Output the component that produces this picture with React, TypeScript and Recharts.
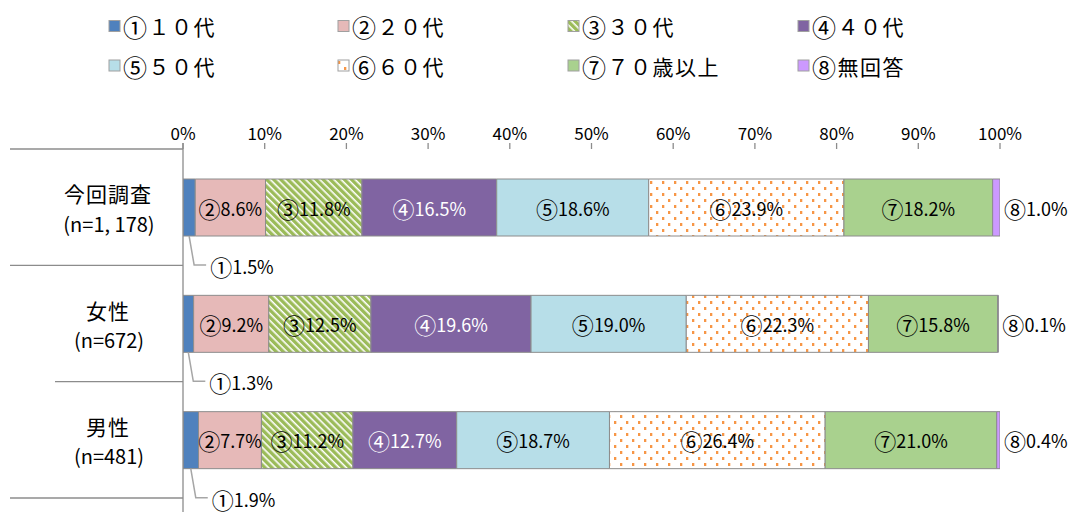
import React from 'react';
import { BarChart, Bar, XAxis, YAxis, LabelList } from 'recharts';

const categories = ['今回調査', '女性', '男性'];
const sampleSizes = ['(n=1, 178)', '(n=672)', '(n=481)'];
const seriesNames = ['１０代', '２０代', '３０代', '４０代', '５０代', '６０代', '７０歳以上', '無回答'];
const circled = ['①', '②', '③', '④', '⑤', '⑥', '⑦', '⑧'];

const s10 = [1.5, 1.3, 1.9];
const s20 = [8.6, 9.2, 7.7];
const s30 = [11.8, 12.5, 11.2];
const s40 = [16.5, 19.6, 12.7];
const s50 = [18.6, 19.0, 18.7];
const s60 = [23.9, 22.3, 26.4];
const s70 = [18.2, 15.8, 21.0];
const sNA = [1.0, 0.1, 0.4];
const xTicks = [0, 10, 20, 30, 40, 50, 60, 70, 80, 90, 100];

const seriesValues = [s10, s20, s30, s40, s50, s60, s70, sNA];
const keys = ['k1', 'k2', 'k3', 'k4', 'k5', 'k6', 'k7', 'k8'];

const data = categories.map((name, i) => {
  const row: any = { name };
  keys.forEach((k, j) => {
    row[k] = seriesValues[j][i];
  });
  return row;
});

const W = 1074;
const H = 513;
const X_AXIS_H = 30;
const PLOT_TOP = 149;
const M_BOTTOM = 15;
const M_RIGHT = 74;
const AXIS_X = 183;
const BAND = (H - PLOT_TOP - M_BOTTOM) / categories.length;
const GRAY = '#8c8c8c';
const FONT = "'Noto Sans CJK JP', 'Noto Sans', sans-serif";

const fills = ['#4F81BD', '#E6B9B8', 'url(#stripes)', '#8064A2', '#B7DEE8', 'url(#dots)', '#A9D18E', '#CC99FF'];
const legendFills = ['#4F81BD', '#E6B9B8', 'url(#lstripes)', '#8064A2', '#B7DEE8', 'url(#ldots)', '#A9D18E', '#CC99FF'];
const textColors = ['#000', '#000', '#000', '#fff', '#000', '#000', '#000', '#000'];
const lineStarts = [10, 55, 10];

const Patterns = ({ prefix }: { prefix: string }) => (
  <defs>
    <pattern id={prefix + 'stripes'} width="5" height="5" patternUnits="userSpaceOnUse" patternTransform="rotate(-45)">
      <rect x="0" y="0" width="5" height="5" fill="#ffffff" />
      <rect x="0" y="0" width="3.4" height="5" fill="#9BBB59" />
    </pattern>
    <pattern id={prefix + 'dots'} width="12" height="12" patternUnits="userSpaceOnUse">
      <rect x="0" y="0" width="12" height="12" fill="#ffffff" />
      <rect x="2" y="1" width="2.3" height="3" fill="#F79646" />
      <rect x="8" y="7" width="2.3" height="3" fill="#F79646" />
    </pattern>
  </defs>
);

const fmt = (v: number) => v.toFixed(1) + '%';

const YTick = (props: any) => {
  const { y, index } = props;
  const half = BAND / 2;
  return (
    <g>
      <text x={108} y={y - 14} textAnchor="middle" dominantBaseline="central" fontSize={21} fontFamily={FONT} fill="#000" letterSpacing={1}>
        {categories[index]}
      </text>
      <text x={109} y={y + 16} textAnchor="middle" dominantBaseline="central" fontSize={20} fontFamily={FONT} fill="#000">
        {sampleSizes[index]}
      </text>
      <line x1={lineStarts[index]} x2={AXIS_X} y1={y + half} y2={y + half} stroke={GRAY} strokeWidth={1.3} />
      {index === 0 && (
        <>
          <line x1={10} x2={AXIS_X} y1={y - half} y2={y - half} stroke={GRAY} strokeWidth={1.3} />
          <line x1={AXIS_X} x2={AXIS_X} y1={y - half - 6} y2={y - half} stroke={GRAY} strokeWidth={1.3} />
        </>
      )}
      {index === categories.length - 1 && (
        <line x1={AXIS_X} x2={AXIS_X} y1={y + half} y2={y + half + 14} stroke={GRAY} strokeWidth={1.3} />
      )}
    </g>
  );
};

const geom = (p: any) => {
  const vb = p.viewBox || {};
  return {
    x: p.x ?? vb.x,
    y: p.y ?? vb.y,
    width: p.width ?? vb.width,
    height: p.height ?? vb.height,
  };
};

const LabelText = ({ x, y, si, value, anchor, fill }: any) => (
  <text x={x} y={y} textAnchor={anchor} dominantBaseline="central" fontSize={18} fontFamily={FONT} fill={fill}>
    <tspan fontSize={22}>{circled[si]}</tspan>
    <tspan>{fmt(Number(value))}</tspan>
  </text>
);

const makeInside = (si: number) => (p: any) => {
  const { x, y, width, height } = geom(p);
  if (x == null) return null;
  return <LabelText x={x + width / 2} y={y + height / 2} si={si} value={p.value} anchor="middle" fill={textColors[si]} />;
};

const LeaderLabel = (p: any) => {
  const { x, y, width, height } = geom(p);
  if (x == null) return null;
  const cx = x + width / 2;
  const by = y + height;
  const ly = by + 29;
  return (
    <g>
      <polyline points={`${cx},${by} ${cx + 5},${ly} ${cx + 17},${ly}`} fill="none" stroke="#a6a6a6" strokeWidth={1.5} />
      <LabelText x={cx + 21} y={ly + 1} si={0} value={p.value} anchor="start" fill="#000" />
    </g>
  );
};

const RightLabel = (p: any) => {
  const { x, y, width, height } = geom(p);
  if (x == null) return null;
  return <LabelText x={x + width + 4} y={y + height / 2} si={7} value={p.value} anchor="start" fill="#000" />;
};

const legendCols = [109, 338, 568, 798];
const legendRows = [26, 65.5];

const Legend2 = () => (
  <svg width={W} height={95} style={{ position: 'absolute', left: 0, top: 0, pointerEvents: 'none' }}>
    <Patterns prefix="l" />
    {seriesNames.map((n, i) => {
      const cx = legendCols[i % 4];
      const cy = legendRows[Math.floor(i / 4)];
      return (
        <g key={n}>
          <rect x={cx} y={cy - 5.5} width={11} height={11} fill={legendFills[i]} stroke="#a0a0a0" strokeWidth={1} />
          <text x={cx + 14} y={cy} dominantBaseline="central" fontSize={21} fontFamily={FONT} fill="#000" letterSpacing={1.5}>
            <tspan fontSize={24}>{circled[i]}</tspan>
            <tspan>{n}</tspan>
          </text>
        </g>
      );
    })}
  </svg>
);

export default function App() {
  return (
    <div style={{ position: 'absolute', left: 0, top: 0, width: W, height: H, background: '#fff' }}>
      <BarChart
        width={W}
        height={H}
        data={data}
        layout="vertical"
        margin={{ top: PLOT_TOP - X_AXIS_H, right: M_RIGHT, bottom: M_BOTTOM, left: 0 }}
      >
        <Patterns prefix="" />
        <XAxis
          type="number"
          orientation="top"
          height={X_AXIS_H}
          domain={[0, 100]}
          ticks={xTicks}
          tickFormatter={(v: number) => v + '%'}
          axisLine={false}
          tickLine={{ stroke: GRAY, strokeWidth: 1.3 }}
          tickSize={6}
          tickMargin={3}
          tick={{ fontSize: 17, fontFamily: FONT, fill: '#000' }}
          allowDataOverflow
        />
        <YAxis
          type="category"
          dataKey="name"
          width={AXIS_X}
          axisLine={{ stroke: GRAY, strokeWidth: 1.3 }}
          tickLine={false}
          tick={<YTick />}
          interval={0}
        />
        {keys.map((k, i) => (
          <Bar
            key={k}
            dataKey={k}
            stackId="a"
            fill={fills[i]}
            stroke={GRAY}
            strokeWidth={1}
            barSize={57}
            isAnimationActive={false}
          >
            <LabelList
              dataKey={k}
              content={i === 0 ? LeaderLabel : i === 7 ? RightLabel : makeInside(i)}
            />
          </Bar>
        ))}
      </BarChart>
      <Legend2 />
    </div>
  );
}
